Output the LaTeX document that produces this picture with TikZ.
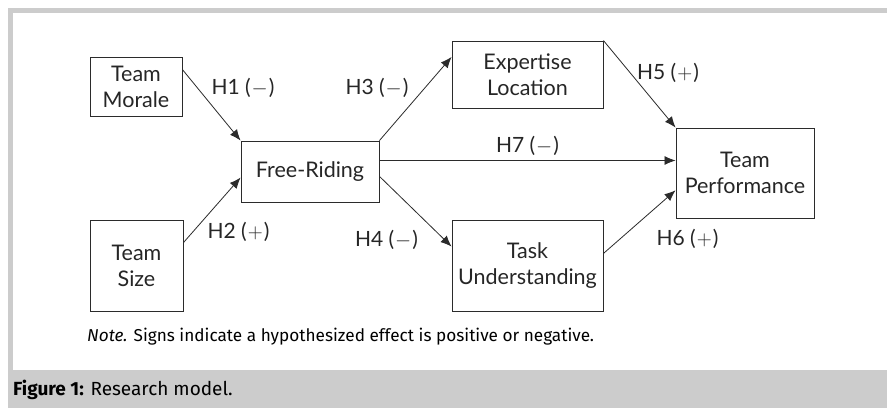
\documentclass[tikz,border=0pt]{standalone}
\usepackage{fontspec}
\setmainfont{Lato}
\newfontfamily\notefont{Fira Sans}
\usepackage{xcolor}
\usetikzlibrary{arrows.meta}
\definecolor{framegray}{HTML}{CCCCCC}
\definecolor{linegray}{HTML}{2B2B2B}
\tikzset{
    varbox/.style={draw=linegray,line width=0.9pt,align=center,inner sep=0pt,font=\fontsize{21.5}{26}\selectfont,text=black!85},
    hyp/.style={font=\fontsize{21}{25}\selectfont,text=black!85},
    link/.style={draw=linegray,line width=0.8pt,-{Latex[length=11pt,width=9pt]}}
}
\newcommand{\hneg}{(\kern1pt$-$\kern1pt)}
\newcommand{\hpos}{(\kern1pt$+$\kern1pt)}
\begin{document}
\begin{tikzpicture}[x=1pt,y=1pt]
        \useasboundingbox (0,0) rectangle (887,408);
        \fill [framegray] (8,0) rectangle (887,400);
        \fill [white] (13,38) rectangle (887,395);
        % variables
        \node [varbox,minimum width=92pt,minimum height=59pt] (morale) at (136,321.5) {Team\\Morale};
        \node [varbox,minimum width=93pt,minimum height=91pt] (size) at (136.5,142.5) {Team\\Size};
        \node [varbox,minimum width=138pt,minimum height=61pt] (free) at (310,236.5) {Free-Riding};
        \node [varbox,minimum width=151pt,minimum height=67pt] (expert) at (527.5,333.5) {Expertise\\Location};
        \node [varbox,minimum width=151pt,minimum height=91pt] (task) at (527.5,142.5) {Task\\Understanding};
        \node [varbox,minimum width=138pt,minimum height=90pt] (perf) at (745,235) {Team\\Performance};
        % paths
        \draw [link] (morale.20) -- (free.north west);
        \draw [link] (size.26) -- (free.185);
        \draw [link] (free.north east) -- (expert.167);
        \draw [link] (free.9) -- (free.9 -| perf.west);
        \draw [link] (free.-4) -- (task.166);
        \draw [link] (expert.north east) -- (perf.north west);
        \draw [link] (task.9) -- (perf.194);
        % hypotheses
        \node [hyp] (h1) at (243,320) {H1 \hneg};
        \node [hyp] (h2) at (238.5,176) {H2 \hpos};
        \node [hyp] (h3) at (377,320) {H3 \hneg};
        \node [hyp] (h4) at (386.5,168) {H4 \hneg};
        \node [hyp] (h5) at (668,335) {H5 \hpos};
        \node [hyp] (h6) at (687.5,169) {H6 \hpos};
        \node [hyp] (h7) at (527.5,262) {H7 \hneg};
        % note and caption
        \node [anchor=west,inner sep=0pt,font=\notefont\fontsize{17.2}{20}\selectfont] (note) at (87,71) {\textit{Note.} Signs indicate a hypothesized effect is positive or negative.};
        \node [anchor=west,inner sep=0pt,font=\notefont\fontsize{19}{22}\selectfont] (caption) at (13,18) {\textbf{Figure 1:} Research model.};
\end{tikzpicture}
\end{document}
